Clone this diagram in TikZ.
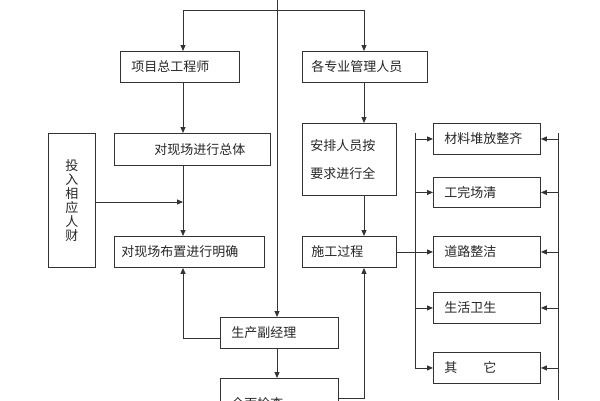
\documentclass[tikz,border=0pt]{standalone}
\usepackage{fontspec}
\setmainfont{Noto Sans CJK SC}
\usetikzlibrary{arrows.meta}
\begin{document}
\begin{tikzpicture}[x=1pt,y=-1pt,
  bx/.style={draw=black!80,line width=0.9pt,anchor=north west,inner sep=0pt,font=\fontsize{13}{15}\selectfont,text=black!85},
  ar/.style={draw=black!80,line width=0.9pt,-{Triangle[length=6pt,width=5pt]}},
  ln/.style={draw=black!80,line width=0.9pt}]
\useasboundingbox (0,0) rectangle (600,400);
\clip (0,0) rectangle (600,400);
% boxes
\node[bx,minimum width=119pt,minimum height=31pt,text width=111pt,align=left] (pm) at (120,51) {\hspace*{7pt}项目总工程师};
\node[bx,minimum width=125pt,minimum height=31pt,text width=119pt,align=left] (sm) at (302,51) {\hspace*{6pt}各专业管理人员};
\node[bx,minimum width=156pt,minimum height=32pt,text width=150pt,align=left] (zt) at (114,133) {\hspace*{37pt}对现场进行总体};
\node[bx,minimum width=47pt,minimum height=134pt,align=center,font=\fontsize{13}{14}\selectfont] (tr) at (48,133) {投\\入\\相\\应\\人\\财};
\node[bx,minimum width=150pt,minimum height=31pt,text width=148pt,align=left] (bz) at (114,236) {\hspace*{6pt}对现场布置进行明确};
\node[bx,minimum width=94pt,minimum height=72pt,text width=90pt,align=left,font=\fontsize{13}{28}\selectfont] (ap) at (302,123) {\hspace*{6pt}安排人员按\\\hspace*{6pt}要求进行全};
\node[bx,minimum width=94pt,minimum height=31pt,text width=88pt,align=left] (sg) at (302,236) {\hspace*{6pt}施工过程};
\node[bx,minimum width=118pt,minimum height=31pt,text width=112pt,align=left] (sc) at (220,317) {\hspace*{8pt}生产副经理};
\node[bx,minimum width=118pt,minimum height=50pt,text width=112pt,align=left] (qm) at (220,378) {\raisebox{-6pt}{\hspace*{8pt}全面检查}};
\node[bx,minimum width=107pt,minimum height=31pt,text width=101pt,align=left] (r1) at (433,123) {\hspace*{8pt}材料堆放整齐};
\node[bx,minimum width=107pt,minimum height=30pt,text width=101pt,align=left] (r2) at (433,177) {\hspace*{8pt}工完场清};
\node[bx,minimum width=107pt,minimum height=31pt,text width=101pt,align=left] (r3) at (433,236) {\hspace*{8pt}道路整洁};
\node[bx,minimum width=107pt,minimum height=31pt,text width=101pt,align=left] (r4) at (433,292) {\hspace*{8pt}生活卫生};
\node[bx,minimum width=107pt,minimum height=31pt,text width=101pt,align=left] (r5) at (433,352) {\hspace*{8pt}其\hspace{2em}它};
% coordinates
\coordinate (top) at (277,0);
\coordinate (hl) at (183,10);
\coordinate (hr) at (364,10);
\coordinate (lb1) at (415,133);
\coordinate (lb2) at (415,369);
\coordinate (rb1) at (558,133);
\coordinate (rb2) at (558,400);
% connectors
\draw[ar] (top) -- (sc.north -| top);
\draw[ln] (hl) -- (hr);
\draw[ar] (hl) -- (pm.north -| hl);
\draw[ar] (hr) -- (sm.north -| hr);
\draw[ar] (pm.south -| hl) -- (zt.north -| hl);
\draw[ar] (zt.south -| hl) -- (bz.north -| hl);
\draw[ar] (tr.east |- 0,202) -- (183,202);
\draw[ar] (sm.south -| hr) -- (ap.north -| hr);
\draw[ar] (ap.south -| hr) -- (sg.north -| hr);
\draw[ar] (sc.west |- 0,338) -- (183,338) -- (bz.south -| hl);
\draw[ar] (sc.south -| top) -- (qm.north -| top);
\draw[ar] (qm.east |- 0,398) -- (364,398) -- (sg.south -| hr);
\draw[ln] (sg.east) -- (sg.east -| lb1);
\draw[ln] (lb1) -- (lb2);
\draw[ln] (rb1) -- (rb2);
\foreach \r in {r1,r2,r3,r4,r5}{
  \draw[ar] (\r.west -| lb1) -- (\r.west);
  \draw[ar] (\r.east -| rb1) -- (\r.east);
}
\end{tikzpicture}
\end{document}
